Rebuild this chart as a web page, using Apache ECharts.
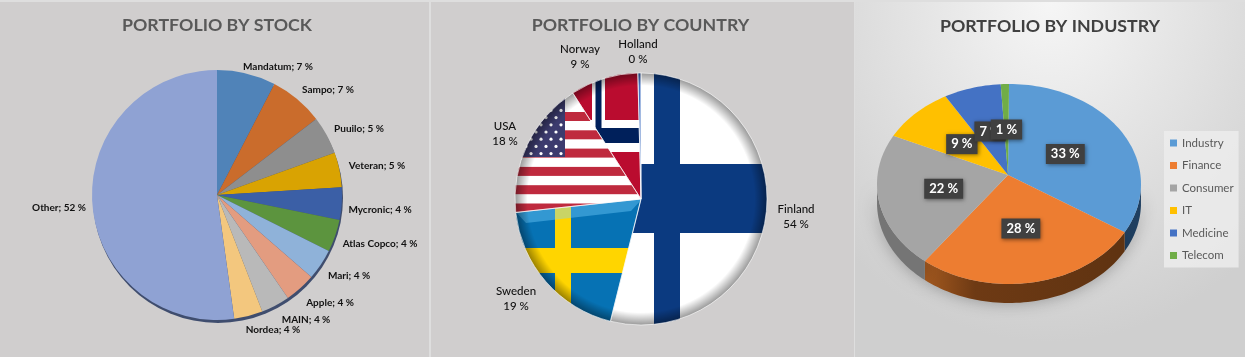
<!DOCTYPE html>
<html>
<head>
<meta charset="utf-8">
<script src="https://cdn.jsdelivr.net/npm/echarts@6/dist/echarts.min.js"></script>
<style>
  html, body { margin: 0; padding: 0; background: #dedede; }
  .panel { position: absolute; top: 2px; height: 355px; background: #d0cece; }
  #stock { left: 0; width: 429px; }
  #country { left: 431px; width: 423px; }
  #industry { left: 855px; width: 390px; background: radial-gradient(ellipse 300px 340px at 50% 0%, #f6f6f6 0%, #e4e4e4 45%, #cfcfcf 100%); }
</style>
</head>
<body>
<div class="panel" id="stock"></div>
<div class="panel" id="country"></div>
<div class="panel" id="industry"></div>
<script>
// stock panel
const stockNames = ['Mandatum', 'Sampo', 'Puuilo', 'Veteran', 'Mycronic', 'Atlas Copco', 'Mari', 'Apple', 'MAIN', 'Nordea', 'Other'];
const stockShares = [7.6, 7.0, 4.9, 4.5, 4.2, 4.2, 4.0, 4.0, 3.7, 3.7, 52.2];
const stockPrinted = [7, 7, 5, 5, 4, 4, 4, 4, 4, 4, 52];
const stockColors = ['#5083b8', '#ca6c2c', '#8e8e8e', '#d9a302', '#3b5fa6', '#5c943e', '#8fb2d9', '#e39c80', '#b9b9b9', '#f3c77e', '#8fa2d3'];
const stockLabelPos = [[278, 65], [328, 88], [359, 127], [377, 164], [380, 208], [380, 242], [349, 274], [330, 301], [306, 318], [273, 328], [59, 206]];

// country panel
const countryNames = ['Finland', 'Sweden', 'USA', 'Norway', 'Holland'];
const countryShares = [53.9, 19.4, 17.6, 8.7, 0.4];
const countryPrinted = [54, 19, 18, 9, 0];
const countryLabelPos = [[365, 215], [85, 297], [74, 132], [149, 55], [207, 50]];

// industry panel
const industryNames = ['Industry', 'Finance', 'Consumer', 'IT', 'Medicine', 'Telecom'];
const industryValues = [33, 28, 22, 9, 7, 1];
const industryColors = ['#5b9bd5', '#ed7d31', '#a5a5a5', '#ffc000', '#4472c4', '#70ad47'];

const labelFont = 'Lato, sans-serif';
const titleStyle = { fontFamily: 'Lato', fontWeight: 700, fontSize: 17.8, color: '#595959' };

function stockChart() {
  const chart = echarts.init(document.getElementById('stock'));
  chart.setOption({
    animation: false,
    title: { text: 'PORTFOLIO BY STOCK', left: 212, textAlign: 'center', top: 9, textStyle: titleStyle },
    series: [
      {
        type: 'pie', silent: true, center: [218, 196], radius: 125, startAngle: 90,
        data: [1], label: { show: false }, labelLine: { show: false },
        itemStyle: { color: '#3f4d6e' }
      },
      {
        type: 'pie', silent: true, center: [217, 193], radius: 125, startAngle: 90,
        data: stockNames.map((name, i) => ({ name, value: stockShares[i], itemStyle: { color: stockColors[i] } })),
        label: {
          formatter: p => `${p.name}; ${stockPrinted[p.dataIndex]} %`,
          overflow: 'none',
          fontFamily: labelFont, fontWeight: 700, fontSize: 10, color: '#111'
        },
        labelLine: { show: false },
        labelLayout: p => ({
          x: stockLabelPos[p.dataIndex][0], y: stockLabelPos[p.dataIndex][1],
          align: 'center', verticalAlign: 'middle'
        })
      }
    ]
  });
}

// draws a flag on a panel sized canvas, so that the pattern lines up with the pie
function flagCanvas(draw) {
  const c = document.createElement('canvas');
  c.width = 423;
  c.height = 355;
  draw(c.getContext('2d'));
  return c;
}

const flags = [
  ctx => { // Finland
    ctx.fillStyle = '#ffffff';
    ctx.fillRect(0, 0, 423, 355);
    ctx.fillStyle = '#0b3a80';
    ctx.fillRect(223, 0, 26, 355);
    ctx.fillRect(0, 162, 423, 69);
  },
  ctx => { // Sweden
    ctx.fillStyle = '#0672b4';
    ctx.fillRect(0, 0, 423, 355);
    ctx.fillStyle = '#ffd500';
    ctx.fillRect(124, 0, 16, 355);
    ctx.fillRect(0, 246, 423, 25);
    ctx.fillStyle = 'rgba(120,210,255,0.4)';
    ctx.beginPath();
    ctx.moveTo(85, 210);
    ctx.lineTo(211, 197);
    ctx.lineTo(200, 209);
    ctx.lineTo(95, 221);
    ctx.closePath();
    ctx.fill();
  },
  ctx => { // USA
    ctx.fillStyle = '#ffffff';
    ctx.fillRect(0, 0, 423, 355);
    ctx.fillStyle = '#bf2a3e';
    for (let y = 110; y < 230; y += 18.3) ctx.fillRect(0, y, 423, 9);
    ctx.fillStyle = '#3c3b6e';
    ctx.fillRect(0, 80, 134, 75);
    ctx.fillStyle = '#ffffff';
    for (let r = 0; r < 9; r++) {
      for (let x = 70 + (r % 2) * 5; x < 132; x += 10) {
        ctx.beginPath();
        ctx.arc(x, 94 + r * 7.2, 1.6, 0, Math.PI * 2);
        ctx.fill();
      }
    }
  },
  ctx => { // Norway
    ctx.fillStyle = '#ba0c2f';
    ctx.fillRect(0, 0, 423, 355);
    ctx.fillStyle = '#ffffff';
    ctx.fillRect(161, 0, 13, 355);
    ctx.fillRect(0, 118, 423, 32);
    ctx.fillStyle = '#00205b';
    ctx.fillRect(164.5, 0, 6, 355);
    ctx.fillRect(0, 126, 423, 15);
  },
  ctx => { // Holland
    ctx.fillStyle = '#4472c4';
    ctx.fillRect(0, 0, 423, 355);
  }
];

function countryChart() {
  const chart = echarts.init(document.getElementById('country'));
  const center = [210, 197];
  const radius = 126;
  chart.setOption({
    animation: false,
    title: { text: 'PORTFOLIO BY COUNTRY', left: 204.5, textAlign: 'center', top: 9, textStyle: titleStyle },
    series: [
      {
        type: 'pie', silent: true, center, radius, startAngle: 90,
        data: countryNames.map((name, i) => ({
          name, value: countryShares[i],
          itemStyle: { color: { image: flagCanvas(flags[i]), repeat: 'no-repeat' } }
        })),
        label: {
          formatter: p => `${p.name}\n${countryPrinted[p.dataIndex]} %`,
          overflow: 'none',
          fontFamily: labelFont, fontWeight: 500, fontSize: 11.5, lineHeight: 15, color: '#111'
        },
        labelLine: { show: false },
        labelLayout: p => ({
          x: countryLabelPos[p.dataIndex][0], y: countryLabelPos[p.dataIndex][1],
          align: 'center', verticalAlign: 'middle'
        })
      },
      {
        // soft bevel on the rim, same slices on top of the flags
        type: 'pie', silent: true, center, radius, startAngle: 90,
        data: countryNames.map((name, i) => ({ name, value: countryShares[i] })),
        label: { show: false }, labelLine: { show: false },
        itemStyle: {
          borderColor: 'rgba(255,255,255,0.6)', borderWidth: 1,
          color: {
            type: 'radial', x: center[0], y: center[1], r: radius, global: true,
            colorStops: [
              { offset: 0, color: 'rgba(0,0,0,0)' },
              { offset: 0.9, color: 'rgba(0,0,0,0)' },
              { offset: 1, color: 'rgba(0,0,0,0.4)' }
            ]
          }
        }
      }
    ]
  });
}

function industryChart() {
  const chart = echarts.init(document.getElementById('industry'));
  const total = industryValues.reduce((a, b) => a + b, 0);
  const cx = 154, cy = 182, rx = 132, ry = 100, depth = 19;
  const apex = [153, 173];
  const rim = t => [cx + rx * Math.sin(t), cy - ry * Math.cos(t)];
  const sideFill = [
    '#1f3f60',
    { type: 'linear', x: 0, y: 0, x2: 1, y2: 0, colorStops: [{ offset: 0, color: '#a4591f' }, { offset: 0.25, color: '#6e3a14' }, { offset: 1, color: '#5f3311' }] },
    '#757575'
  ];

  function renderSlice(i) {
    const from = industryValues.slice(0, i).reduce((a, b) => a + b, 0) / total * Math.PI * 2;
    const to = from + industryValues[i] / total * Math.PI * 2;
    const steps = Math.max(2, Math.ceil((to - from) / 0.03));
    const arc = [];
    for (let k = 0; k <= steps; k++) arc.push(from + (to - from) * k / steps);

    const children = [];
    const lower = arc.filter(t => t >= Math.PI / 2 && t <= Math.PI * 1.5);
    if (lower.length > 1 && sideFill[i]) {
      const top = lower.map(rim);
      const bottom = top.map(p => [p[0], p[1] + depth]).reverse();
      children.push({
        type: 'polygon', z2: 1,
        shape: { points: top.concat(bottom) },
        style: { fill: sideFill[i], shadowBlur: 16, shadowColor: 'rgba(0,0,0,0.3)' }
      });
    }
    children.push({
      type: 'polygon', z2: 5,
      shape: { points: [apex].concat(arc.map(rim)) },
      style: { fill: industryColors[i] }
    });
    const mid = rim((from + to) / 2);
    children.push({
      type: 'text', z2: 10 + i,
      style: {
        x: (apex[0] + mid[0]) / 2, y: (apex[1] + mid[1]) / 2,
        text: industryValues[i] + ' %', align: 'center', verticalAlign: 'middle',
        fontFamily: labelFont, fontWeight: 700, fontSize: 13, fill: '#fff',
        backgroundColor: '#404040', padding: [4, 5, 3, 5],
        shadowBlur: 4, shadowColor: 'rgba(0,0,0,0.45)', shadowOffsetX: 1, shadowOffsetY: 1
      }
    });
    return { type: 'group', children };
  }

  chart.setOption({
    animation: false,
    title: {
      text: 'PORTFOLIO BY INDUSTRY', left: 190, textAlign: 'center', top: 10,
      textStyle: Object.assign({}, titleStyle, { color: '#404040' })
    },
    legend: {
      data: industryNames, orient: 'vertical', left: 309, top: 129,
      itemWidth: 7, itemHeight: 7, itemGap: 10.5, icon: 'rect',
      padding: [6, 5, 6, 6], backgroundColor: 'rgba(236,236,236,0.85)',
      textStyle: { fontFamily: labelFont, fontSize: 11.5, color: '#595959' }
    },
    series: industryNames.map((name, i) => ({
      type: 'custom', name, coordinateSystem: 'none', silent: true,
      data: [industryValues[i]],
      itemStyle: { color: industryColors[i] },
      renderItem: () => renderSlice(i)
    }))
  });
}

stockChart();
countryChart();
industryChart();
</script>
</body>
</html>
